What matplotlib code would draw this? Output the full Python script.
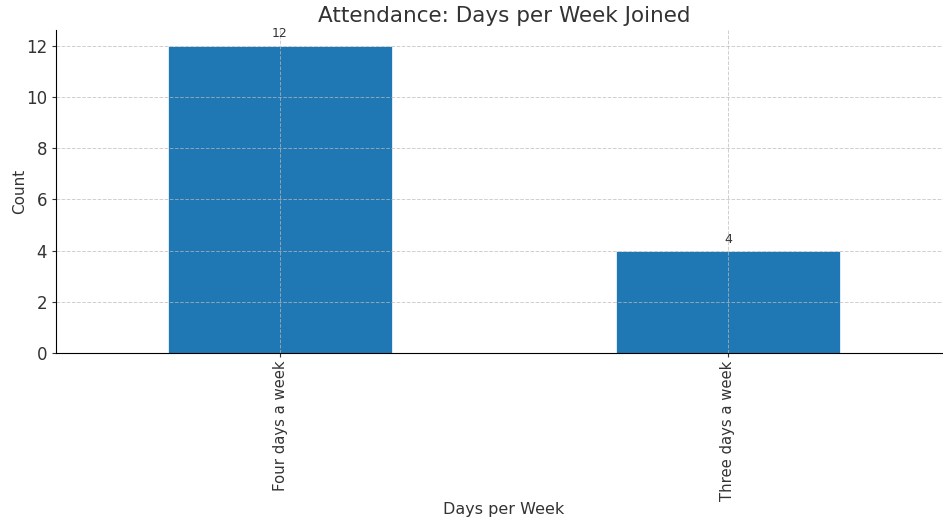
import matplotlib.pyplot as plt

categories = ["Four days a week", "Three days a week"]
counts = [12, 4]

plt.rcParams['text.color'] = '#333333'
plt.rcParams['axes.labelcolor'] = '#333333'
plt.rcParams['xtick.color'] = '#333333'
plt.rcParams['ytick.color'] = '#333333'

fig, ax = plt.subplots(figsize=(9.43, 5.21), dpi=100)
x = range(len(categories))
bars = ax.bar(x, counts, width=0.5, color='#1f77b4', edgecolor='white', linewidth=0.5)
ax.set_xlim(-0.5, len(categories) - 0.5)
ax.set_xticks(list(x))
ax.set_xticklabels(categories, rotation=90, fontsize=10.7)
ax.tick_params(axis='x', pad=2, length=3)
ax.tick_params(axis='y', labelsize=12, length=3)

for xi, v in zip(x, counts):
    ax.text(xi, v + 0.2, str(v), ha='center', va='bottom', fontsize=9)

ax.set_title("Attendance: Days per Week Joined", fontsize=15.5)
ax.set_xlabel("Days per Week", fontsize=11.5, labelpad=1)
ax.set_ylabel("Count", fontsize=11, labelpad=-1)
ax.grid(True, linestyle='--', color='#bbbbbb', alpha=0.7, linewidth=0.7)
ax.spines['top'].set_visible(False)
ax.spines['right'].set_visible(False)

fig.subplots_adjust(left=0.0594, right=1.0095, top=0.942, bottom=0.322)
fig.savefig("out.png", dpi=100)
